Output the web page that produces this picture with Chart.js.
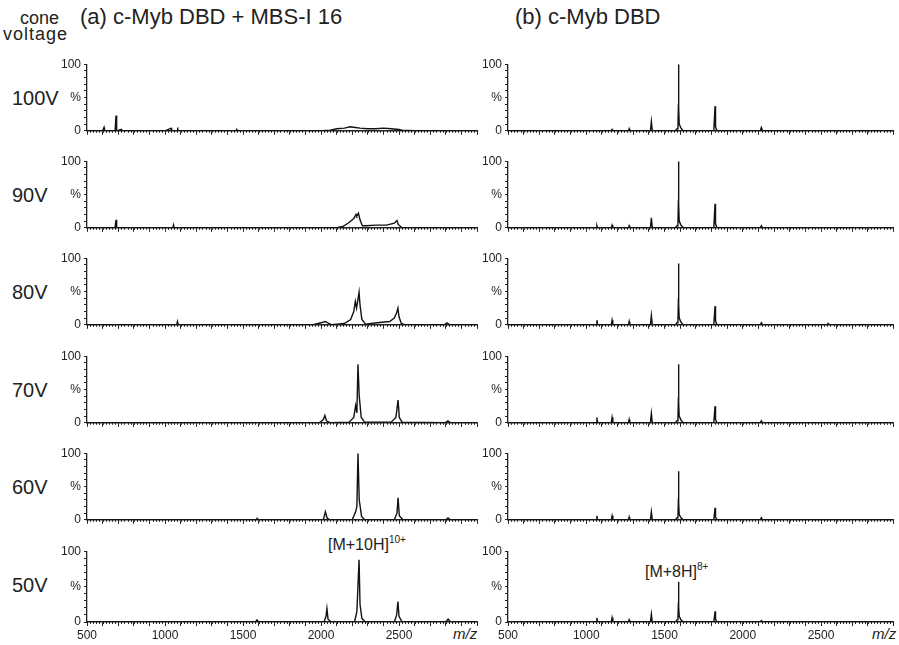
<!DOCTYPE html>
<html>
<head>
    <title>c-Myb DBD ESI-MS</title>
    <script src="https://cdn.jsdelivr.net/npm/chart.js"></script>
    <style>
        body { margin: 0; background: #fff; width: 899px; height: 645px; position: relative; overflow: hidden;
               font-family: "Liberation Sans", Arial, sans-serif; color: #222; }
        canvas { position: absolute; }
        .lbl { position: absolute; white-space: nowrap; line-height: 1; }
        .title { font-size: 22px; }
        .volt { font-size: 20px; }
        .mz { font-size: 15px; font-style: italic; }
        .ion { font-size: 16px; }
        .ion sup { font-size: 10px; vertical-align: 7px; }
    </style>
</head>
<body>
    <div class="lbl" style="left:20px; top:9px; font-size:18px;">cone</div>
    <div class="lbl" style="left:3px; top:25px; font-size:18px; letter-spacing:1px;">voltage</div>
    <div class="lbl title" style="left:80px; top:6px;">(a) c-Myb DBD + MBS-I 16</div>
    <div class="lbl title" style="left:515px; top:6px;">(b) c-Myb DBD</div>
    <div class="lbl ion" style="left:328px; top:535px;">[M+10H]<sup>10+</sup></div>
    <div class="lbl ion" style="left:645px; top:562px;">[M+8H]<sup>8+</sup></div>
    <div class="lbl mz" style="left:453px; top:626px;">m/z</div>
    <div class="lbl mz" style="left:872px; top:626px;">m/z</div>
    <div id="volts"></div>

    <script>
        // cone voltages (rows)
        const voltages = ['100V', '90V', '80V', '70V', '60V', '50V'];

        // (a) c-Myb DBD + MBS-I 16 : [m/z, %]
        const specA100 = [[500,0],[600,0],[609,5],[612,0],[680,0],[686,23],[690,0],[720,2],[723,0],[1000,0],[1040,4],[1043,0],
            [1078,0],[1080,5],[1083,0],[1455,0],[1460,2],[1463,0],[2000,0],[2060,1],[2100,3],[2150,4],[2186,6],[2220,5],[2250,4],
            [2300,3],[2350,3],[2400,4],[2450,3],[2500,2],[2520,1],[2600,0],[3000,0]];
        const specA90 = [[500,0],[680,0],[686,12],[690,0],[1050,0],[1055,4],[1058,0],[2100,0],[2140,2],[2180,8],[2210,14],[2225,20],
            [2230,18],[2240,22],[2250,12],[2265,3],[2290,3],[2350,4],[2420,4],[2470,7],[2487,11],[2495,5],[2520,0],[3000,0]];
        const specA80 = [[500,0],[1075,0],[1080,5],[1085,0],[1950,0],[2000,3],[2026,5],[2050,2],[2070,0],[2150,2],[2190,8],[2210,20],
            [2220,35],[2228,25],[2238,40],[2244,49],[2250,30],[2262,8],[2285,1],[2360,3],[2440,5],[2470,10],[2485,18],[2493,25],
            [2500,12],[2515,2],[2540,0],[2790,0],[2808,3],[2825,0],[3000,0]];
        const specA70 = [[500,0],[1990,0],[2015,5],[2025,11],[2035,3],[2060,0],[2180,1],[2210,8],[2222,26],[2230,15],[2237,88],
            [2245,40],[2258,8],[2280,1],[2450,1],[2480,8],[2494,34],[2502,8],[2520,1],[2795,0],[2814,3],[2830,0],[3000,0]];
        const specA60 = [[500,0],[1585,0],[1590,2],[1595,0],[2015,0],[2028,12],[2040,2],[2060,0],[2200,0],[2222,12],[2230,20],
            [2237,100],[2245,30],[2260,5],[2280,0],[2470,0],[2487,10],[2494,33],[2502,6],[2525,0],[2800,0],[2814,3],[2830,0],[3000,0]];
        const specA50 = [[500,0],[1580,0],[1590,3],[1600,0],[2020,0],[2032,8],[2038,19],[2045,4],[2065,0],[2215,0],[2230,15],
            [2244,88],[2250,25],[2262,5],[2285,0],[2470,0],[2485,10],[2493,29],[2500,8],[2520,0],[2800,0],[2815,4],[2830,0],[3000,0]];

        // (b) c-Myb DBD : [m/z, %]
        const specB100 = [[500,0],[1160,0],[1165,2],[1170,0],[1270,0],[1274,3],[1278,0],[1410,0],[1416,14],[1422,0],[1570,0],[1580,3],
            [1586,8],[1589,40],[1590,100],[1591,35],[1594,10],[1605,4],[1620,0],[1815,0],[1823,37],[1826,6],[1835,0],[2112,0],
            [2119,5],[2126,0],[2960,0]];
        const specB90 = [[500,0],[1063,0],[1068,3],[1072,0],[1160,0],[1165,4],[1170,0],[1270,0],[1274,3],[1278,0],[1410,0],[1416,15],
            [1422,0],[1570,0],[1580,3],[1586,8],[1589,42],[1590,100],[1591,35],[1594,10],[1605,4],[1620,0],[1815,0],[1823,36],
            [1826,6],[1835,0],[2112,0],[2119,3],[2126,0],[2960,0]];
        const specB80 = [[500,0],[1063,0],[1068,7],[1072,0],[1160,0],[1165,7],[1170,0],[1270,0],[1274,5],[1278,0],[1410,0],[1416,14],
            [1422,0],[1570,0],[1580,3],[1586,8],[1589,40],[1590,92],[1591,30],[1594,10],[1605,4],[1620,0],[1815,0],[1823,28],
            [1826,6],[1835,0],[2112,0],[2119,3],[2126,0],[2540,0],[2545,2],[2550,0],[2960,0]];
        const specB70 = [[500,0],[1063,0],[1068,8],[1072,0],[1160,0],[1165,8],[1170,0],[1270,0],[1274,5],[1278,0],[1410,0],[1416,14],
            [1422,0],[1570,0],[1580,3],[1586,8],[1589,38],[1590,88],[1591,30],[1594,10],[1605,4],[1620,0],[1815,0],[1823,25],
            [1826,5],[1835,0],[2112,0],[2119,3],[2126,0],[2960,0]];
        const specB60 = [[500,0],[1063,0],[1068,6],[1072,0],[1160,0],[1165,6],[1170,0],[1270,0],[1274,4],[1278,0],[1410,0],[1416,12],
            [1422,0],[1570,0],[1580,3],[1586,7],[1589,32],[1590,73],[1591,25],[1594,8],[1605,3],[1620,0],[1815,0],[1823,18],
            [1826,4],[1835,0],[2112,0],[2119,3],[2126,0],[2960,0]];
        const specB50 = [[500,0],[1063,0],[1068,6],[1072,0],[1160,0],[1165,6],[1170,0],[1270,0],[1274,3],[1278,0],[1410,0],[1416,11],
            [1422,0],[1570,0],[1580,3],[1586,7],[1589,28],[1590,57],[1591,22],[1594,8],[1605,3],[1620,0],[1815,0],[1823,15],
            [1826,4],[1835,0],[2112,0],[2119,2],[2126,0],[2960,0]];

        const leftSpectra = [specA100, specA90, specA80, specA70, specA60, specA50];
        const rightSpectra = [specB100, specB90, specB80, specB70, specB60, specB50];
        const xTickLabels = [500, 1000, 1500, 2000, 2500];

        const FONT = '"Liberation Sans", Arial, sans-serif';
        const INK = '#222';

        // small ticks every 20 m/z under the x axis
        const minorTicks = {
            id: 'minorTicks',
            afterDraw(chart) {
                const s = chart.scales.x, ctx = chart.ctx;
                ctx.save();
                ctx.strokeStyle = INK;
                ctx.lineWidth = 1;
                for (let v = s.min; v <= s.max; v += 20) {
                    const px = Math.round(s.getPixelForValue(v)) + 0.5;
                    ctx.beginPath();
                    ctx.moveTo(px, s.top);
                    ctx.lineTo(px, s.top + 2);
                    ctx.stroke();
                }
                ctx.restore();
            }
        };

        function makePanel(spec, col, row) {
            const bottom = row === 5;
            const top = 61.5 + row * 97.4;
            const xh = bottom ? 22 : 6;
            const canvas = document.createElement('canvas');
            const w = col === 0 ? 422 : 417;
            const h = Math.round(8 + 73 + xh);
            canvas.width = w;
            canvas.height = h;
            canvas.style.left = (col === 0 ? 57 : 478) + 'px';
            canvas.style.top = Math.round(top - 8) + 'px';
            document.body.appendChild(canvas);

            new Chart(canvas, {
                type: 'line',
                data: {
                    datasets: [{
                        data: spec.map(p => ({ x: p[0], y: p[1] })),
                        borderColor: '#111',
                        borderWidth: 1.4,
                        pointRadius: 0,
                        tension: 0
                    }]
                },
                options: {
                    responsive: false,
                    animation: false,
                    events: [],
                    layout: { padding: { top: 8, right: 2, left: 0, bottom: 0 } },
                    plugins: { legend: { display: false }, tooltip: { enabled: false } },
                    scales: {
                        x: {
                            type: 'linear',
                            min: 500,
                            max: col === 0 ? 3000 : 2960,
                            border: { color: INK, width: 1.5 },
                            grid: { drawOnChartArea: false, tickLength: 4, color: INK },
                            ticks: {
                                stepSize: 100, autoSkip: false, maxRotation: 0, padding: 2, color: INK,
                                font: { family: FONT, size: 12 },
                                callback: v => (bottom && xTickLabels.includes(v)) ? String(v) : ''
                            },
                            afterFit: s => { s.height = xh; }
                        },
                        y: {
                            min: 0,
                            max: 100,
                            border: { color: INK, width: 1.3 },
                            grid: { drawOnChartArea: false, tickLength: 3, color: INK },
                            ticks: {
                                stepSize: 10, autoSkip: false, padding: 3, color: INK,
                                font: { family: FONT, size: 12 },
                                callback: v => v === 100 ? '100' : v === 50 ? '%' : v === 0 ? '0' : ''
                            },
                            afterFit: s => { s.width = 30; }
                        }
                    }
                },
                plugins: [minorTicks]
            });
        }

        document.addEventListener('DOMContentLoaded', function () {
            leftSpectra.forEach((s, i) => makePanel(s, 0, i));
            rightSpectra.forEach((s, i) => makePanel(s, 1, i));
            const holder = document.getElementById('volts');
            voltages.forEach((v, i) => {
                const d = document.createElement('div');
                d.className = 'lbl volt';
                d.textContent = v;
                d.style.left = '12px';
                d.style.top = Math.round(61.5 + i * 97.4 + 36 - 10) + 'px';
                holder.appendChild(d);
            });
        });
    </script>
</body>
</html>
